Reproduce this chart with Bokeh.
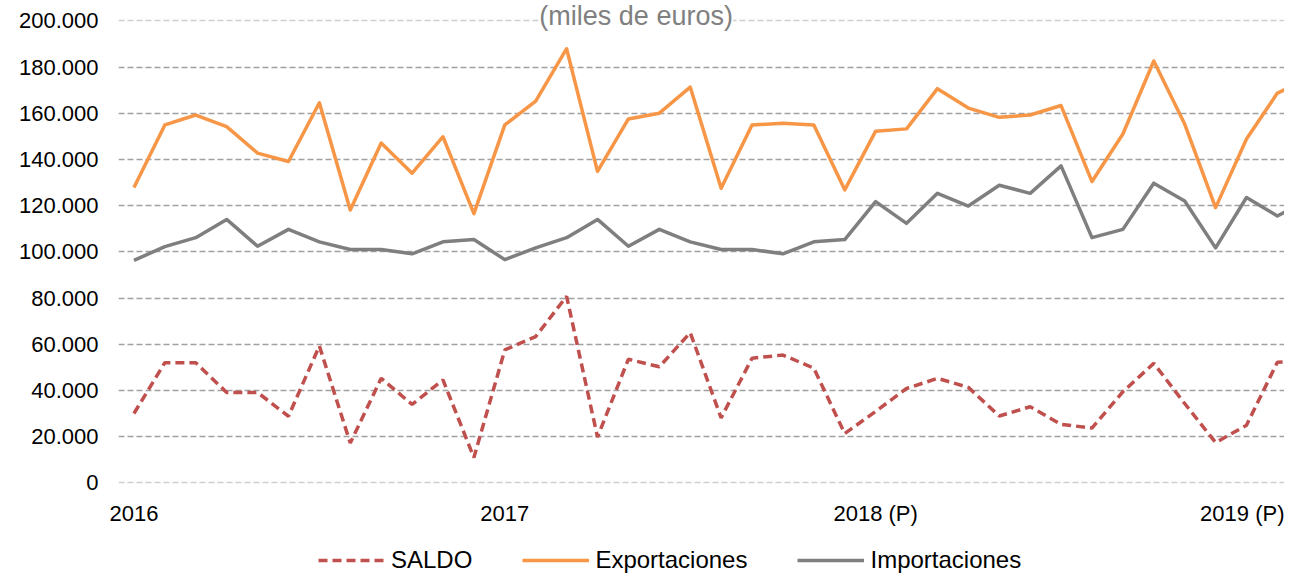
from bokeh.plotting import figure
from bokeh.models import Range1d, FixedTicker, Label, Legend, LegendItem, Grid
from bokeh.layouts import column
from bokeh.embed import file_html
from bokeh.resources import INLINE

# Monthly values (euros, miles), Jan 2016 - Mar 2019
saldo = [30100, 52100, 52100, 39200, 39200, 28900, 59300, 17300, 45300, 34000, 44600, 11000,
         57600, 63400, 80800, 19900, 53600, 50300, 65100, 28200, 54000, 55400, 49700, 21400,
         31000, 40900, 45300, 41400, 29000, 33000, 25400, 23800, 39500, 51800, 34400, 17500,
         25000, 52300, 52500]
exportaciones = [127900, 155000, 159300, 154300, 142800, 139200, 164600, 118200, 147200, 134100, 149900, 116600,
                 155000, 165300, 188000, 134900, 157600, 160100, 171400, 127600, 155000, 155700, 155000, 126900,
                 152300, 153300, 170700, 162300, 158300, 159300, 163400, 130500, 151100, 182700, 155400, 119200,
                 148900, 168800, 175000]
importaciones = [96400, 102300, 106200, 114100, 102500, 109800, 104400, 101100, 101100, 99200, 104400, 105400,
                 96700, 101800, 106200, 114100, 102500, 109800, 104400, 101100, 101100, 99200, 104400, 105400,
                 121800, 112400, 125400, 119900, 128900, 125400, 137300, 106200, 109800, 129800, 122100, 101800,
                 123600, 115600, 122500]
year_ticks = [0, 12, 24, 36]
year_labels = ["2016", "2017", "2018 (P)", "2019 (P)"]
y_ticks = list(range(0, 200001, 20000))
series_names = ["SALDO", "Exportaciones", "Importaciones"]
title_text = "(miles de euros)"

x = list(range(len(exportaciones)))

FONT = "Liberation Sans"
STYLES = [dict(line_color="#C0504D", line_width=3.5, line_dash="9 5"),
          dict(line_color="#F79646", line_width=3.5, line_join="round"),
          dict(line_color="#7F7F7F", line_width=3.5, line_join="round")]
SERIES = [saldo, exportaciones, importaciones]

p = figure(width=1284, height=530, output_backend="svg", toolbar_location=None,
           x_range=Range1d(-0.5, 37.23), y_range=Range1d(-650, 208874),
           min_border_left=118, min_border_right=0, min_border_top=0, min_border_bottom=46)
p.outline_line_color = None
p.background_fill_color = "white"
p.border_fill_color = "white"

# grid: inner lines darker, outer (0 and 200.000) lighter
p.xgrid.grid_line_color = None
p.ygrid.ticker = FixedTicker(ticks=y_ticks[1:-1])
p.ygrid.grid_line_color = "#A0A0A0"
p.ygrid.grid_line_width = 1.5
p.ygrid.grid_line_dash = "6 3"
p.add_layout(Grid(dimension=1, ticker=FixedTicker(ticks=[y_ticks[0], y_ticks[-1]]),
                  grid_line_color="#CFCFCF", grid_line_width=1.5, grid_line_dash="6 3"))

# y axis
p.yaxis.ticker = FixedTicker(ticks=y_ticks)
p.yaxis.major_label_overrides = {v: (f"{v:,}".replace(",", ".")) for v in y_ticks}
p.yaxis.axis_line_color = None
p.yaxis.major_tick_line_color = None
p.yaxis.minor_tick_line_color = None
p.yaxis.major_label_standoff = 14
p.yaxis.major_label_text_font = FONT
p.yaxis.major_label_text_font_size = "22px"
p.yaxis.major_label_text_color = "#000000"

# x axis
p.xaxis.ticker = FixedTicker(ticks=year_ticks)
p.xaxis.major_label_overrides = dict(zip(year_ticks, year_labels))
p.xaxis.axis_line_color = None
p.xaxis.major_tick_line_color = None
p.xaxis.minor_tick_line_color = None
p.xaxis.major_label_standoff = 10
p.xaxis.major_label_text_font = FONT
p.xaxis.major_label_text_font_size = "22px"
p.xaxis.major_label_text_color = "#000000"

for ys, st in zip(SERIES, STYLES):
    p.line(x, ys, **st)

title = Label(x=16.25, y=202000, text=title_text, text_align="center", text_baseline="alphabetic",
              text_color="#808080", text_font=FONT, text_font_size="27px",
              background_fill_color="white")
p.add_layout(title)

# legend strip below the chart
pl = figure(width=1284, height=44, output_backend="svg", toolbar_location=None,
            x_range=Range1d(1000, 1001), y_range=Range1d(0, 1),
            min_border_left=0, min_border_right=0, min_border_top=0, min_border_bottom=0)
pl.axis.visible = False
pl.grid.visible = False
pl.outline_line_color = None
pl.border_fill_color = "white"
items = []
for name, ys, st in zip(series_names, SERIES, STYLES):
    r = pl.line(x, ys, **st)
    items.append(LegendItem(label=name, renderers=[r]))
legend = Legend(items=items, orientation="horizontal", location=(200, 0),
                border_line_color=None, background_fill_alpha=0,
                padding=0, margin=0, spacing=50, glyph_width=67, glyph_height=20,
                label_standoff=6, label_height=20,
                label_text_font=FONT, label_text_font_size="24px", label_text_color="#000000")
pl.add_layout(legend, "center")

layout = column(p, pl, spacing=0)
open("out.html", "w").write(file_html(layout, INLINE))
